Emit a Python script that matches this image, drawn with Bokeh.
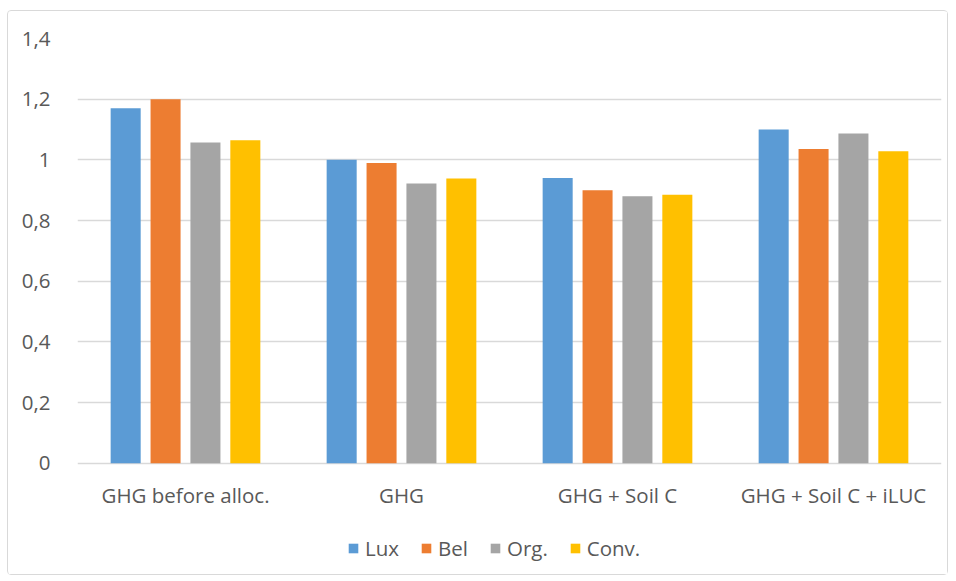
from bokeh.plotting import figure
from bokeh.models import FactorRange, Range1d, Legend, LegendItem, FixedTicker, CustomJSTickFormatter, ColumnDataSource
from bokeh.transform import dodge
from bokeh.core.properties import value
from bokeh.embed import file_html
from bokeh.resources import INLINE

categories = ["GHG before alloc.", "GHG", "GHG + Soil C", "GHG + Soil C + iLUC"]
series = ["Lux", "Bel", "Org.", "Conv."]
lux = [1.17, 1.0, 0.94, 1.10]
bel = [1.20, 0.99, 0.90, 1.036]
org = [1.057, 0.922, 0.88, 1.087]
conv = [1.065, 0.939, 0.885, 1.028]
colors = ["#5B9BD5", "#ED7D31", "#A5A5A5", "#FFC000"]
y_ticks = [0, 0.2, 0.4, 0.6, 0.8, 1.0, 1.2, 1.4]

FONT = "Open Sans"
FS = "20.5px"
TXT = "#595959"
LABEL_Y = -0.104  # vertical placement of category labels (style)

src = ColumnDataSource(dict(cat=categories, lux=lux, bel=bel, org=org, conv=conv,
                            ly=[LABEL_Y] * len(categories)))

p = figure(x_range=FactorRange(*categories), y_range=Range1d(-0.3665, 1.4),
           width=941, height=565, output_backend="svg", toolbar_location=None,
           min_border_left=69, min_border_top=27, min_border_right=8, min_border_bottom=2,
           margin=(10, 0, 0, 7),
           styles={"border": "1px solid #d9d9d9", "border-radius": "4px", "box-sizing": "border-box"})
p.outline_line_color = None

cols = ["lux", "bel", "org", "conv"]
offsets = [-0.277, -0.0923, 0.0923, 0.277]
renderers = []
for c, off, col in zip(cols, offsets, colors):
    r = p.vbar(x=dodge("cat", off, range=p.x_range), top=c, width=0.139, source=src,
               fill_color=col, line_color=None)
    renderers.append(r)

p.text(x="cat", y="ly", text="cat", source=src, text_font=value(FONT), text_font_size=FS,
       text_color=TXT, text_align="center", text_baseline="middle")

p.xaxis.visible = False
p.yaxis.ticker = FixedTicker(ticks=y_ticks)
p.yaxis.formatter = CustomJSTickFormatter(code="return (Math.round(tick*10)/10).toString().replace('.', ',');")
p.yaxis.axis_line_color = None
p.yaxis.major_tick_line_color = None
p.yaxis.minor_tick_line_color = None
p.yaxis.major_label_standoff = 21
p.yaxis.major_label_text_font = FONT
p.yaxis.major_label_text_font_size = FS
p.yaxis.major_label_text_color = TXT

p.xgrid.grid_line_color = None
p.ygrid.ticker = FixedTicker(ticks=y_ticks)
p.ygrid.grid_line_color = "#d9d9d9"
p.ygrid.grid_line_width = 1.5

legend = Legend(items=[LegendItem(label=s, renderers=[r]) for s, r in zip(series, renderers)],
                orientation="horizontal", location=(270, 12),
                label_text_font=FONT, label_text_font_size=FS, label_text_color=TXT,
                glyph_width=12, glyph_height=12, spacing=21, label_standoff=6,
                border_line_color=None, background_fill_alpha=0, margin=0, padding=4)
p.add_layout(legend)

open("out.html", "w").write(file_html(p, INLINE))
